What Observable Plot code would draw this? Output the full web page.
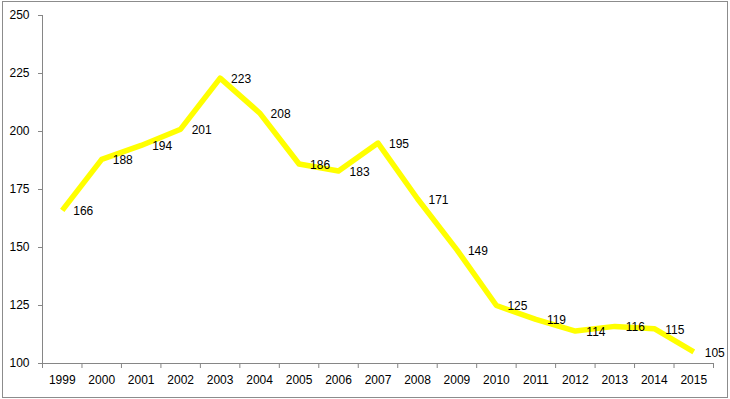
<!DOCTYPE html>
<html>
<head>
<meta charset="utf-8">
<script src="https://cdn.jsdelivr.net/npm/d3@7"></script>
<script src="https://cdn.jsdelivr.net/npm/@observablehq/plot@0.6"></script>
<style>
  body { margin: 0; background: #fff; }
  #wrap { position: relative; width: 730px; height: 399px; }
  #border { position: absolute; left: 2px; top: 1px; width: 724px; height: 395px; border: 1px solid #8c8c8c; pointer-events: none; }
</style>
</head>
<body>
<div id="wrap"><div id="border"></div></div>
<script>
const years = [1999,2000,2001,2002,2003,2004,2005,2006,2007,2008,2009,2010,2011,2012,2013,2014,2015];
const values = [166,188,194,201,223,208,186,183,195,171,149,125,119,114,116,115,105];
const yTicks = [100,125,150,175,200,225,250];

const data = years.map((y, i) => ({year: y, value: values[i]}));
const boundaries = d3.range(years[0] - 0.5, years[years.length - 1] + 1, 1);
const axisColor = "#868686";

const chart = Plot.plot({
  width: 730,
  height: 399,
  marginLeft: 42,
  marginRight: 17,
  marginTop: 15,
  marginBottom: 36,
  style: {fontFamily: "'Liberation Sans', Arial, sans-serif", fontSize: "12px", color: "#000", background: "transparent"},
  x: {type: "linear", domain: [years[0] - 0.5, years[years.length - 1] + 0.5]},
  y: {domain: [100, 250]},
  marks: [
    Plot.axisY({ticks: yTicks, tickSize: 4, tickPadding: 9, stroke: axisColor, fill: "#000", label: null, fontSize: 12}),
    Plot.axisX({ticks: boundaries, tickSize: 5, tickFormat: () => "", stroke: axisColor, label: null}),
    Plot.axisX({ticks: years, tickSize: 0, tickPadding: 12, tickFormat: d => String(d), fill: "#000", label: null, fontSize: 12}),
    Plot.ruleY([100], {stroke: axisColor}),
    Plot.ruleX([years[0] - 0.5], {stroke: axisColor}),
    Plot.line(data, {x: "year", y: "value", stroke: "#FFFF00", strokeWidth: 5.5, strokeLinejoin: "round", strokeLinecap: "butt"}),
    Plot.text(data, {x: "year", y: "value", text: d => String(d.value), dx: 11, dy: 1, textAnchor: "start", fill: "#000", fontSize: 12})
  ]
});
document.getElementById("wrap").prepend(chart);
</script>
</body>
</html>
